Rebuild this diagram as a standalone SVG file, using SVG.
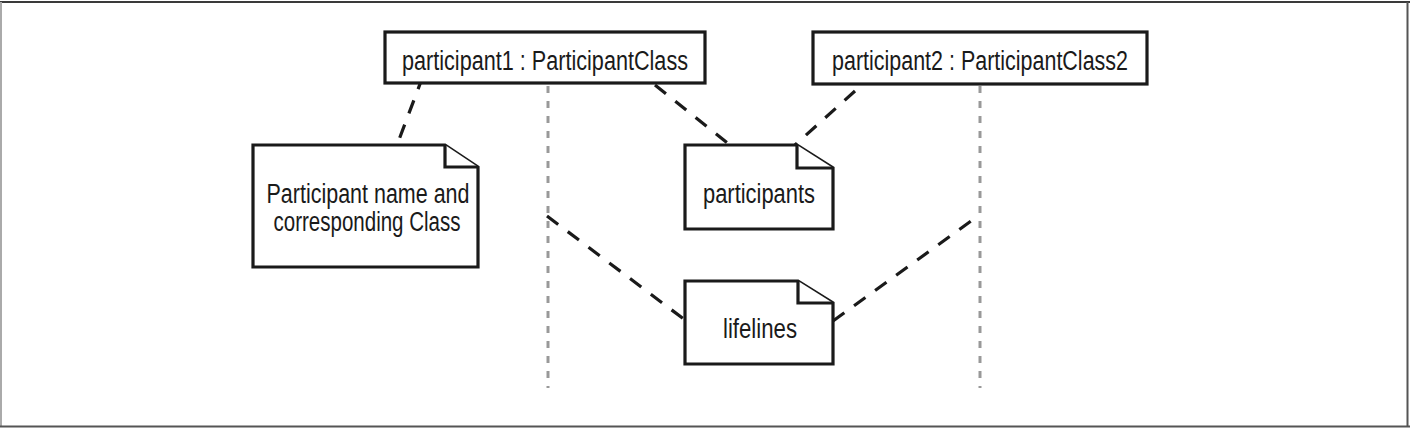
<svg xmlns="http://www.w3.org/2000/svg" width="1410" height="429" viewBox="0 0 1410 429">
<style>
.box{fill:#fff;stroke:#1a1a1a;stroke-width:3.2}
.note{fill:#fff;stroke:#1a1a1a;stroke-width:3.2;stroke-linejoin:miter}
.life{stroke:#999;stroke-width:3;stroke-dasharray:7 8;fill:none}
.con{stroke:#1a1a1a;stroke-width:3.2;stroke-dasharray:14 12;fill:none}
text{font-family:"Liberation Sans Narrow","Liberation Sans",Arial,sans-serif;fill:#1a1a1a;text-anchor:middle}
.t{font-size:27px}
</style>
<rect x="0" y="0" width="1410" height="429" fill="#fff"/>
<g id="frame">
<line x1="0" y1="2" x2="1410" y2="2" stroke="#3a3a3a" stroke-width="2"/>
<line x1="1" y1="2" x2="1" y2="427" stroke="#aaa" stroke-width="2"/>
<line x1="1407.5" y1="2" x2="1407.5" y2="427" stroke="#555" stroke-width="2"/>
<line x1="0" y1="426.5" x2="1410" y2="426.5" stroke="#555" stroke-width="2"/>
</g>
<g id="connectors">
<line class="life" x1="548" y1="86" x2="548" y2="388"/>
<line class="life" x1="980" y1="86" x2="980" y2="388"/>
<line class="con" x1="423" y1="76" x2="397" y2="145"/>
<line class="con" x1="655" y1="85" x2="730" y2="145"/>
<line class="con" x1="855" y1="91" x2="795" y2="145"/>
<line class="con" x1="547" y1="216" x2="685" y2="320"/>
<line class="con" x1="833" y1="321" x2="978" y2="216"/>
</g>
<g id="participant1">
<rect class="box" x="385" y="32" width="320" height="51"/>
<text class="t" x="545" y="70" textLength="286" lengthAdjust="spacingAndGlyphs">participant1 : ParticipantClass</text>
</g>
<g id="participant2">
<rect class="box" x="813" y="32" width="334" height="52"/>
<text class="t" x="980" y="70" textLength="296" lengthAdjust="spacingAndGlyphs">participant2 : ParticipantClass2</text>
</g>
<g id="note-name">
<path class="note" d="M253,145 H445 L478,167 V267 H253 Z"/>
<path class="note" d="M445,145 V167 H478" fill="none"/>
<text class="t" x="368" y="203" textLength="203" lengthAdjust="spacingAndGlyphs">Participant name and</text>
<text class="t" x="367" y="231" textLength="187" lengthAdjust="spacingAndGlyphs">corresponding Class</text>
</g>
<g id="note-participants">
<path class="note" d="M685,145 H797 L833,168 V229 H685 Z"/>
<path class="note" d="M797,145 V168 H833" fill="none"/>
<text class="t" x="759" y="203" textLength="112" lengthAdjust="spacingAndGlyphs">participants</text>
</g>
<g id="note-lifelines">
<path class="note" d="M685,281 H798 L833,303 V364 H685 Z"/>
<path class="note" d="M798,281 V303 H833" fill="none"/>
<text class="t" x="760" y="338" textLength="74" lengthAdjust="spacingAndGlyphs">lifelines</text>
</g>
</svg>
